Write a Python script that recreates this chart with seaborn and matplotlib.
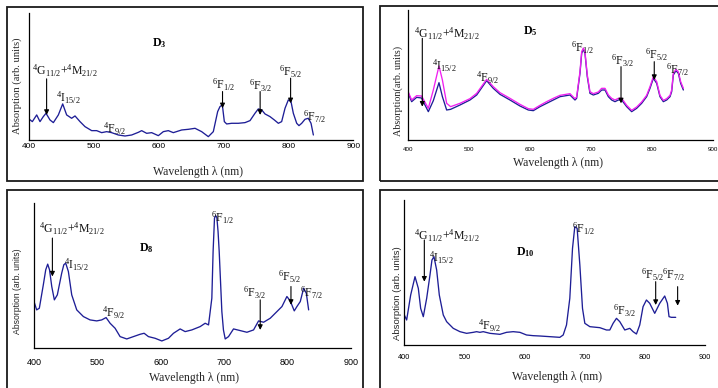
import matplotlib
matplotlib.use("Agg")
import matplotlib.pyplot as plt
from matplotlib.patches import Rectangle
import numpy as np
import pandas as pd
import seaborn as sns

# ---------------- data ----------------
# D3
wl_d3 = [400, 404.7, 411.4, 416.5, 421.6, 425.8, 431.9, 437.1, 444.8, 451.5, 457.6, 465.3, 470.5, 478.2,
         485.9, 496.2, 503.9, 511.6, 519.3, 527.0, 537.3, 547.6, 557.9, 568.2, 573.3, 581.0, 588.7, 599.0,
         606.7, 614.4, 622.1, 635.0, 645.3, 655.6, 665.8, 676.1, 683.8, 690.5, 694.1, 697.7, 700.8, 704.4,
         712.1, 722.4, 732.7, 740.4, 748.1, 753.2, 758.4, 763.5, 771.2, 777.9, 784.1, 789.2, 794.4, 799.5,
         803.6, 807.2, 812.4, 815.9, 820.1, 825.2, 830.3, 834.5, 838.1]
abs_d3 = [62, 55, 75, 55, 70, 80, 60, 52, 75, 108, 75, 65, 72, 55,
          40, 28, 28, 22, 25, 22, 15, 12, 15, 23, 28, 20, 22, 13,
          25, 28, 22, 30, 32, 35, 25, 10, 25, 85, 100, 105, 55, 48,
          50, 50, 52, 58, 80, 93, 90, 78, 70, 60, 50, 55, 95, 120,
          115, 80, 50, 43, 50, 62, 65, 50, 15]

# D5 (two recordings)
wl_d5 = [400, 405.5, 413.7, 421.9, 426.0, 432.9, 441.1, 450.4, 456, 463, 469.5, 484.9, 501.3, 512.3, 528.7,
         539.6, 550.6, 567.0, 583.4, 597.1, 605.3, 616.3, 627.2, 638.2, 649.2, 665.6, 673.8, 676.5, 682.0,
         684.8, 687.5, 690.2, 694.0, 698.4, 703.9, 712.1, 717.6, 723.1, 728.6, 734.0, 739.5, 745.0, 750.5,
         758.7, 766.9, 775.1, 783.3, 791.5, 797.0, 802.5, 808.0, 813.4, 818.9, 824.4, 829.9, 832.6, 835.3,
         839.7, 843.6, 847.4, 851.8]
abs_d5_blue = [140, 115, 128, 126, 110, 85, 118, 172, 130, 90, 92, 105, 120, 135, 178, 155, 137, 120, 102,
               90, 88, 100, 110, 120, 130, 135, 120, 125, 200, 260, 272, 260, 190, 140, 135, 140, 150, 150,
               130, 120, 115, 120, 120, 100, 85, 95, 110, 130, 155, 185, 170, 130, 115, 120, 130, 145, 195,
               208, 200, 170, 150]
abs_d5_pink = [144, 120, 133, 132, 118, 95, 150, 222, 180, 110, 100, 110, 124, 140, 182, 160, 142, 125, 107,
               94, 92, 104, 115, 125, 134, 139, 124, 129, 205, 265, 276, 264, 195, 145, 139, 144, 155, 155,
               135, 125, 120, 125, 125, 104, 89, 99, 114, 134, 160, 190, 175, 134, 119, 124, 134, 150, 200,
               212, 204, 175, 155]

# D8
wl_d8 = [400, 404.2, 408.4, 414.7, 418.5, 421.6, 424.5, 428.0, 432.1, 436.8, 443.7, 447.0, 450.0, 454.2,
         459.5, 467.4, 477.9, 488.4, 498.9, 506.8, 513.7, 520.0, 527.9, 535.8, 546.3, 556.8, 567.4, 573.7,
         580.5, 591.0, 601.6, 612.1, 620.0, 630.5, 638.4, 648.9, 662.1, 670.0, 675.3, 680.5, 682.5, 684.7,
         686.5, 688.4, 690.3, 692.1, 694.2, 696.3, 698.8, 701.6, 706.8, 714.7, 725.3, 735.8, 746.3, 754.2,
         762.1, 772.6, 783.2, 791.1, 798.9, 804.2, 810.5, 814.7, 820.0, 825.3, 829.5, 833.2]
abs_d8 = [140, 115, 120, 190, 235, 252, 235, 185, 145, 160, 225, 250, 255, 230,
          160, 115, 95, 85, 82, 85, 92, 75, 60, 35, 28, 35, 42, 45,
          35, 30, 22, 30, 45, 58, 50, 55, 65, 75, 70, 150, 290, 390,
          397, 392, 350, 290, 200, 110, 55, 28, 35, 58, 53, 48, 55, 82,
          78, 90, 110, 125, 155, 142, 112, 125, 140, 180, 165, 115]

# D10
wl_d10 = [400, 403.9, 410.6, 417.8, 423.3, 427.2, 431.6, 437.2, 442.7, 446.0, 449.3, 453.8, 458.2, 464.8,
          470.4, 481.4, 492.5, 503.6, 514.7, 520.2, 525.7, 531.3, 542.4, 559.0, 570.0, 581.1, 592.2, 603.3,
          614.3, 625.4, 642.0, 658.6, 664.2, 669.7, 675.2, 679.7, 683.5, 687.4, 691.9, 696.3, 700.2, 708.5,
          725.1, 736.2, 741.7, 747.2, 752.8, 758.3, 766.6, 774.9, 780.4, 786.0, 791.5, 797.0, 802.6, 808.1,
          816.4, 824.7, 833.0, 837.5, 840.2, 844.1, 851.3]
abs_d10 = [90, 75, 150, 205, 170, 110, 85, 140, 210, 255, 265, 225, 150, 90,
           70, 50, 40, 35, 38, 40, 38, 40, 35, 32, 38, 40, 38, 30,
           28, 27, 25, 23, 30, 60, 140, 290, 355, 350, 240, 110, 65, 55,
           52, 45, 45, 65, 80, 70, 45, 50, 40, 33, 60, 115, 135, 125,
           95, 125, 147, 125, 85, 83, 83]

x_ticks = [400, 500, 600, 700, 800, 900]

G = r"$^4G_{11/2}$+$^4M_{21/2}$"
I15 = r"$^4I_{15/2}$"
F9 = r"$^4F_{9/2}$"
F1 = r"$^6F_{1/2}$"
F3 = r"$^6F_{3/2}$"
F5 = r"$^6F_{5/2}$"
F7 = r"$^6F_{7/2}$"

# annotation labels: (text, wavelength, level); arrows: (wavelength, tail level, head level)
labels_d3 = [(G, 455, 208), (I15, 460, 125), (F9, 532, 35), (F1, 699, 165), (F3, 757, 162),
             (F5, 803, 205), (F7, 840, 70)]
arrows_d3 = [(426.7, 183, 75), (698, 145, 95), (756, 145, 75), (803, 185, 110)]
labels_d5 = [(G, 463, 320), (I15, 458.6, 222), (F9, 529.8, 188), (F1, 686.4, 278), (F3, 752, 238),
             (F5, 807.4, 257), (F7, 842.5, 210)]
arrows_d5 = [(423, 305, 100), (749.4, 220, 110), (804, 235, 180)]
labels_d8 = [(G, 459.5, 358), (I15, 467.4, 250), (F9, 525.3, 105), (F1, 697.9, 390), (F3, 747.4, 165),
             (F5, 803.7, 213), (F7, 837.9, 165)]
arrows_d8 = [(429, 330, 215), (756.8, 145, 55), (805.3, 185, 130)]
labels_d10 = [(G, 471.5, 328), (I15, 462.1, 263), (F9, 542.5, 58), (F1, 698.8, 348), (F3, 766.9, 102),
              (F5, 812.4, 210), (F7, 848.4, 210)]
arrows_d10 = [(433.3, 315, 190), (818, 190, 120), (854.5, 175, 118)]

# ---------------- style ----------------
sns.set_style("white")
plt.rcParams["font.family"] = ["Liberation Serif", "DejaVu Serif"]
plt.rcParams["mathtext.default"] = "regular"

NAVY = "#1e1e96"
PINK = "#f020f0"

W, H = 718, 388
fig = plt.figure(figsize=(W / 100, H / 100), dpi=100)
fig.patch.set_facecolor("white")


def fx(x):
    return x / W


def fy(y):
    return 1 - y / H


# panel frames
for (l, t, r, b) in [(7, 7, 363, 181), (380, 6, 730, 181), (7, 190, 363, 400), (380, 190, 730, 400)]:
    fig.add_artist(Rectangle((fx(l), fy(b)), (r - l) / W, (b - t) / H, transform=fig.transFigure,
                             fill=False, edgecolor="#1a1a1a", linewidth=1.3))


def make_panel(box, ylim, series, labels, arrows, title, title_pos, tick_size, tick_pad, tick_dir,
               xlab_c, ylab_c, ylab_text, ylab_family, ylab_size):
    l, t, r, b = box
    ax = fig.add_axes([fx(l), fy(b), (r - l) / W, (b - t) / H])
    for wl, ab, col in series:
        df = pd.DataFrame({"wl": wl, "a": ab})
        sns.lineplot(data=df, x="wl", y="a", ax=ax, color=col, linewidth=0.95)
    ax.set_xlim(400, 900)
    ax.set_ylim(*ylim)
    ax.set_facecolor("none")
    for s in ["top", "right"]:
        ax.spines[s].set_visible(False)
    for s in ["left", "bottom"]:
        ax.spines[s].set_color("black")
        ax.spines[s].set_linewidth(0.9)
    ax.set_yticks([])
    ax.set_xticks(x_ticks)
    ax.tick_params(axis="x", direction=tick_dir, length=2.5, width=0.7, labelsize=tick_size,
                   pad=tick_pad, labelfontfamily="Liberation Sans", colors="black")
    ax.set_xlabel("Wavelength λ (nm)", fontsize=8.5, family="Liberation Serif")
    ax.xaxis.label.set_va("center")
    ax.xaxis.set_label_coords((xlab_c[0] - l) / (r - l), (b - xlab_c[1]) / (b - t))
    ax.set_ylabel(ylab_text, fontsize=ylab_size, family=ylab_family)
    ax.yaxis.label.set_va("center")
    ax.yaxis.set_label_coords((ylab_c[0] - l) / (r - l), (b - ylab_c[1]) / (b - t))
    for txt, xw, yv in labels:
        ax.text(xw, yv, txt, ha="center", va="center", fontsize=8.5, color="#111111")
    for xw, tail, head in arrows:
        ax.annotate("", xy=(xw, head), xytext=(xw, tail),
                    arrowprops=dict(arrowstyle="-|>", color="black", lw=0.8, mutation_scale=7,
                                    shrinkA=0, shrinkB=0))
    ax.text(title_pos[0], title_pos[1], title, ha="center", va="center", fontsize=8.5,
            fontweight="bold", color="black")
    leg = ax.get_legend()
    if leg:
        leg.remove()
    return ax


make_panel((29.3, 13, 353.5, 140), (0, 380), [(wl_d3, abs_d3, NAVY)], labels_d3, arrows_d3,
           "D$_3$", (601, 290), 6, 2.5, "in", (198, 172), (17.5, 86),
           "Absorption (arb. units)", "Liberation Serif", 7.6)

make_panel((408.3, 10, 712.7, 140), (0, 390), [(wl_d5, abs_d5_blue, NAVY), (wl_d5, abs_d5_pink, PINK)],
           labels_d5, arrows_d5, "D$_5$", (600, 328), 4.5, 2.5, "out", (558, 163), (398, 91),
           "Absorption(arb. units)", "Liberation Serif", 7.3)

make_panel((34, 203, 351, 348.3), (0, 435), [(wl_d8, abs_d8, NAVY)], labels_d8, arrows_d8,
           "D$_8$", (576.3, 300), 6.5, 7, "in", (194, 378), (18, 291),
           "Absorption (arb. units)", "Liberation Sans", 6.2)

make_panel((404.3, 200, 705, 345), (0, 435), [(wl_d10, abs_d10, NAVY)], labels_d10, arrows_d10,
           "D$_{10}$", (600.7, 280), 5.3, 6.5, "in", (557, 377), (397, 293),
           "Absorption (arb. units)", "Liberation Sans", 6.8)

fig.savefig("out.png", dpi=100, facecolor="white")
